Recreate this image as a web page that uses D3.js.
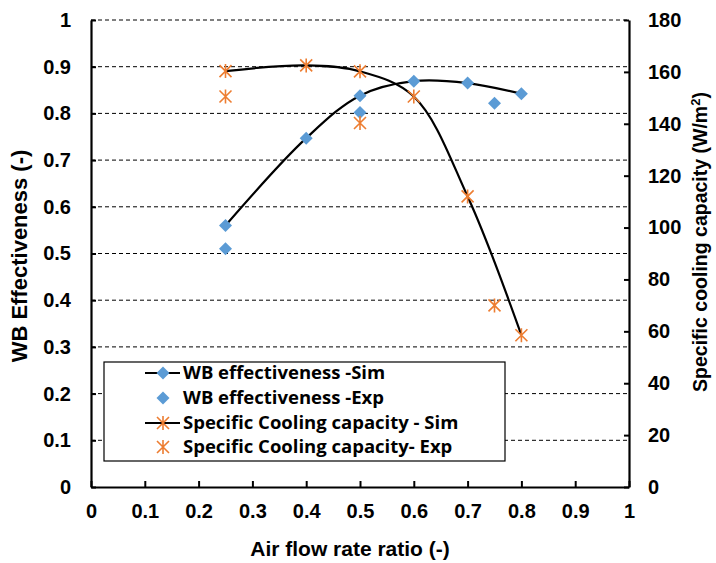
<!DOCTYPE html>
<html>
<head>
<meta charset="utf-8">
<script src="https://cdn.jsdelivr.net/npm/d3@7"></script>
<style>
  body { margin: 0; background: #fff; }
  .tick text { font-family: "Liberation Sans Narrow", "Liberation Sans", Arial, sans-serif; font-weight: bold; font-size: 20px; fill: #000; }
  .title { font-family: "Liberation Sans", Arial, sans-serif; font-weight: bold; }
  .legend text { font-family: "Open Sans", Lato, sans-serif; font-weight: bold; font-size: 18.5px; }
</style>
</head>
<body>
<div id="chart"></div>
<script>
// Data
var simX = [0.25, 0.4, 0.5, 0.6, 0.7, 0.8];
var wbSim = [0.56, 0.747, 0.838, 0.869, 0.865, 0.842];
var coolSim = [160.3, 162.5, 160.2, 150.5, 112, 58.5];

var wbExpX = [0.25, 0.5, 0.75];
var wbExp = [0.51, 0.802, 0.822];

var coolExpX = [0.25, 0.5, 0.75];
var coolExp = [150.5, 140.3, 70];

var xTicks = [0, 0.1, 0.2, 0.3, 0.4, 0.5, 0.6, 0.7, 0.8, 0.9, 1];
var leftTicks = [0, 0.1, 0.2, 0.3, 0.4, 0.5, 0.6, 0.7, 0.8, 0.9, 1];
var rightTicks = [0, 20, 40, 60, 80, 100, 120, 140, 160, 180];

var legendLabels = ["WB effectiveness -Sim", "WB effectiveness -Exp",
    "Specific Cooling capacity - Sim", "Specific Cooling capacity- Exp"];

// Layout
var width = 716, height = 563;
var plotLeft = 91, plotRight = 629, plotTop = 20, plotBottom = 487;
var blue = "#5b9bd5", orange = "#ed7d31";

var x = d3.scaleLinear().domain([0, 1]).range([plotLeft, plotRight]);
var yL = d3.scaleLinear().domain([0, 1]).range([plotBottom, plotTop]);
var yR = d3.scaleLinear().domain([0, 180]).range([plotBottom, plotTop]);

var svg = d3.select("#chart").append("svg")
    .attr("width", width)
    .attr("height", height);

// Dashed gridlines on left axis ticks
svg.append("g").selectAll("line")
    .data(leftTicks.filter(function(d) { return d > 0; }))
    .enter().append("line")
    .attr("x1", plotLeft).attr("x2", plotRight)
    .attr("y1", function(d) { return yL(d); })
    .attr("y2", function(d) { return yL(d); })
    .attr("stroke", "#000")
    .attr("stroke-width", 1)
    .attr("stroke-dasharray", "4,3");

// Axes
function styleAxis(g) {
    g.select(".domain").attr("stroke-width", 2.2);
    g.selectAll(".tick line").attr("stroke-width", 2);
}

svg.append("g")
    .attr("transform", "translate(0," + plotBottom + ")")
    .call(d3.axisBottom(x).tickValues(xTicks).tickSize(-6).tickSizeOuter(0).tickPadding(17)
        .tickFormat(function(d) { return d3.format("")(d); }))
    .call(styleAxis);

svg.append("g")
    .attr("transform", "translate(" + plotLeft + ",0)")
    .call(d3.axisLeft(yL).tickValues(leftTicks).tickSize(-5).tickSizeOuter(0).tickPadding(20)
        .tickFormat(function(d) { return d3.format("")(d); }))
    .call(styleAxis);

svg.append("g")
    .attr("transform", "translate(" + plotRight + ",0)")
    .call(d3.axisRight(yR).tickValues(rightTicks).tickSize(-5).tickSizeOuter(0).tickPadding(19))
    .call(styleAxis);

// Axis titles
svg.append("text")
    .attr("class", "title")
    .attr("x", 350)
    .attr("y", 556)
    .attr("font-size", 21)
    .attr("text-anchor", "middle")
    .text("Air flow rate ratio (-)");

svg.append("text")
    .attr("class", "title")
    .attr("font-size", 22)
    .attr("transform", "translate(27,256) rotate(-90)")
    .attr("text-anchor", "middle")
    .text("WB Effectiveness (-)");

var rt = svg.append("text")
    .attr("class", "title")
    .attr("font-size", 19.5)
    .attr("transform", "translate(707,242) rotate(-90)")
    .attr("text-anchor", "middle");
rt.append("tspan").text("Specific cooling capacity (W/m");
rt.append("tspan").attr("dy", -7).attr("font-size", 13).text("2");
rt.append("tspan").attr("dy", 7).text(")");

// Smooth lines
var lineWB = d3.line()
    .x(function(d, i) { return x(simX[i]); })
    .y(function(d) { return yL(d); })
    .curve(d3.curveCatmullRom.alpha(0.5));

var lineCool = d3.line()
    .x(function(d, i) { return x(simX[i]); })
    .y(function(d) { return yR(d); })
    .curve(d3.curveCatmullRom.alpha(0.5));

svg.append("path").datum(wbSim)
    .attr("d", lineWB)
    .attr("fill", "none").attr("stroke", "#000").attr("stroke-width", 2.2);

svg.append("path").datum(coolSim)
    .attr("d", lineCool)
    .attr("fill", "none").attr("stroke", "#000").attr("stroke-width", 2.2);

// Marker helpers
function diamond(g, cx, cy) {
    g.append("path")
        .attr("d", "M" + cx + "," + (cy - 6.5) + "L" + (cx + 6.5) + "," + cy +
            "L" + cx + "," + (cy + 6.5) + "L" + (cx - 6.5) + "," + cy + "Z")
        .attr("fill", blue);
}

function star(g, cx, cy) {
    var r = 6;
    g.append("path")
        .attr("d", "M" + (cx - r) + "," + (cy - r) + "L" + (cx + r) + "," + (cy + r) +
            "M" + (cx + r) + "," + (cy - r) + "L" + (cx - r) + "," + (cy + r) +
            "M" + cx + "," + (cy - r - 1) + "L" + cx + "," + (cy + r + 1))
        .attr("stroke", orange)
        .attr("stroke-width", 1.6)
        .attr("fill", "none");
}

var marks = svg.append("g");
wbSim.forEach(function(d, i) { diamond(marks, x(simX[i]), yL(d)); });
wbExp.forEach(function(d, i) { diamond(marks, x(wbExpX[i]), yL(d)); });
coolSim.forEach(function(d, i) { star(marks, x(simX[i]), yR(d)); });
coolExp.forEach(function(d, i) { star(marks, x(coolExpX[i]), yR(d)); });

// Legend
var legend = svg.append("g").attr("class", "legend");
legend.append("rect")
    .attr("x", 104).attr("y", 362)
    .attr("width", 401).attr("height", 99)
    .attr("fill", "#fff")
    .attr("stroke", "#000")
    .attr("stroke-width", 1.2);

var rowY = [373, 398, 423, 447];
legendLabels.forEach(function(label, i) {
    var cy = rowY[i];
    if (i === 0 || i === 2) {
        legend.append("line")
            .attr("x1", 145).attr("x2", 180)
            .attr("y1", cy).attr("y2", cy)
            .attr("stroke", "#000").attr("stroke-width", 2.2);
    }
    if (i < 2) diamond(legend, 163, cy);
    else star(legend, 163, cy);
    legend.append("text")
        .attr("x", 183)
        .attr("y", cy)
        .attr("dy", "0.35em")
        .text(label);
});
</script>
</body>
</html>
